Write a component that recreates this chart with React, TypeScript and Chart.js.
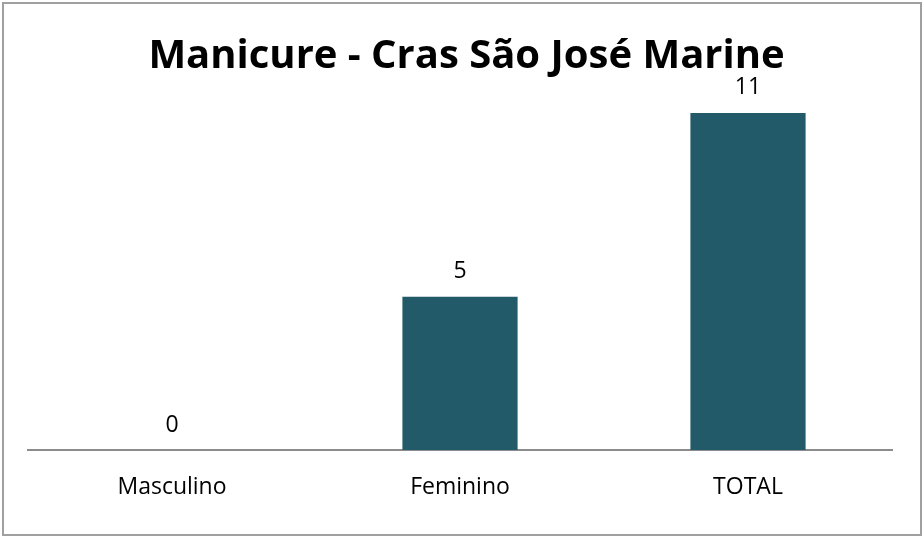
import React, { useEffect, useRef } from "react";
import { Chart, registerables } from "chart.js";

Chart.register(...registerables);

const titleText = "Manicure - Cras São José Marine";
const categories = ["Masculino", "Feminino", "TOTAL"];
const values = [0, 5, 11];
const barColor = "#235a69";

const valueLabels = {
  id: "valueLabels",
  afterDatasetsDraw(chart: any) {
    const ctx = chart.ctx;
    const meta = chart.getDatasetMeta(0);
    ctx.save();
    ctx.font = "23px 'Open Sans'";
    ctx.fillStyle = "#000";
    ctx.textAlign = "center";
    ctx.textBaseline = "middle";
    meta.data.forEach((el: any, i: number) => {
      ctx.fillText(String(chart.data.datasets[0].data[i]), el.x, el.y - 25);
    });
    ctx.restore();
  },
};

const titleDraw = {
  id: "titleDraw",
  afterDraw(chart: any) {
    const ctx = chart.ctx;
    ctx.save();
    ctx.font = "bold 40px 'Open Sans'";
    ctx.fillStyle = "#000";
    ctx.textAlign = "center";
    ctx.textBaseline = "alphabetic";
    ctx.fillText(titleText, 466.5, 68);
    ctx.restore();
  },
};

export default function App() {
  const ref = useRef<HTMLCanvasElement>(null);
  useEffect(() => {
    const chart = new Chart(ref.current!, {
      type: "bar",
      data: {
        labels: categories,
        datasets: [
          {
            data: values,
            backgroundColor: barColor,
            categoryPercentage: 1,
            barPercentage: 0.4,
          },
        ],
      },
      options: {
        animation: false,
        responsive: false,
        layout: { padding: { left: 28, right: 31, top: 82.3, bottom: 0 } },
        plugins: {
          legend: { display: false },
          tooltip: { enabled: false },
          title: { display: false },
        },
        scales: {
          x: {
            grid: { display: false, drawTicks: false },
            border: { display: true, color: "#8c8c8c", width: 2 },
            ticks: { color: "#000", font: { family: "'Open Sans'", size: 23 }, padding: 24 },
            afterFit: (scale: any) => {
              scale.height = 87;
            },
          },
          y: { display: false, min: 0, max: 12 },
        },
      },
      plugins: [valueLabels, titleDraw],
    });
    return () => chart.destroy();
  }, []);
  return (
    <div style={{ position: "fixed", left: 0, top: 0, width: 923, height: 537, background: "#fff" }}>
      <canvas ref={ref} width={923} height={537} style={{ position: "absolute", left: 0, top: 0 }} />
      <div
        style={{
          position: "absolute",
          left: 2,
          top: 2,
          width: 920,
          height: 534,
          boxSizing: "border-box",
          border: "2px solid #a0a0a0",
          pointerEvents: "none",
        }}
      />
    </div>
  );
}
